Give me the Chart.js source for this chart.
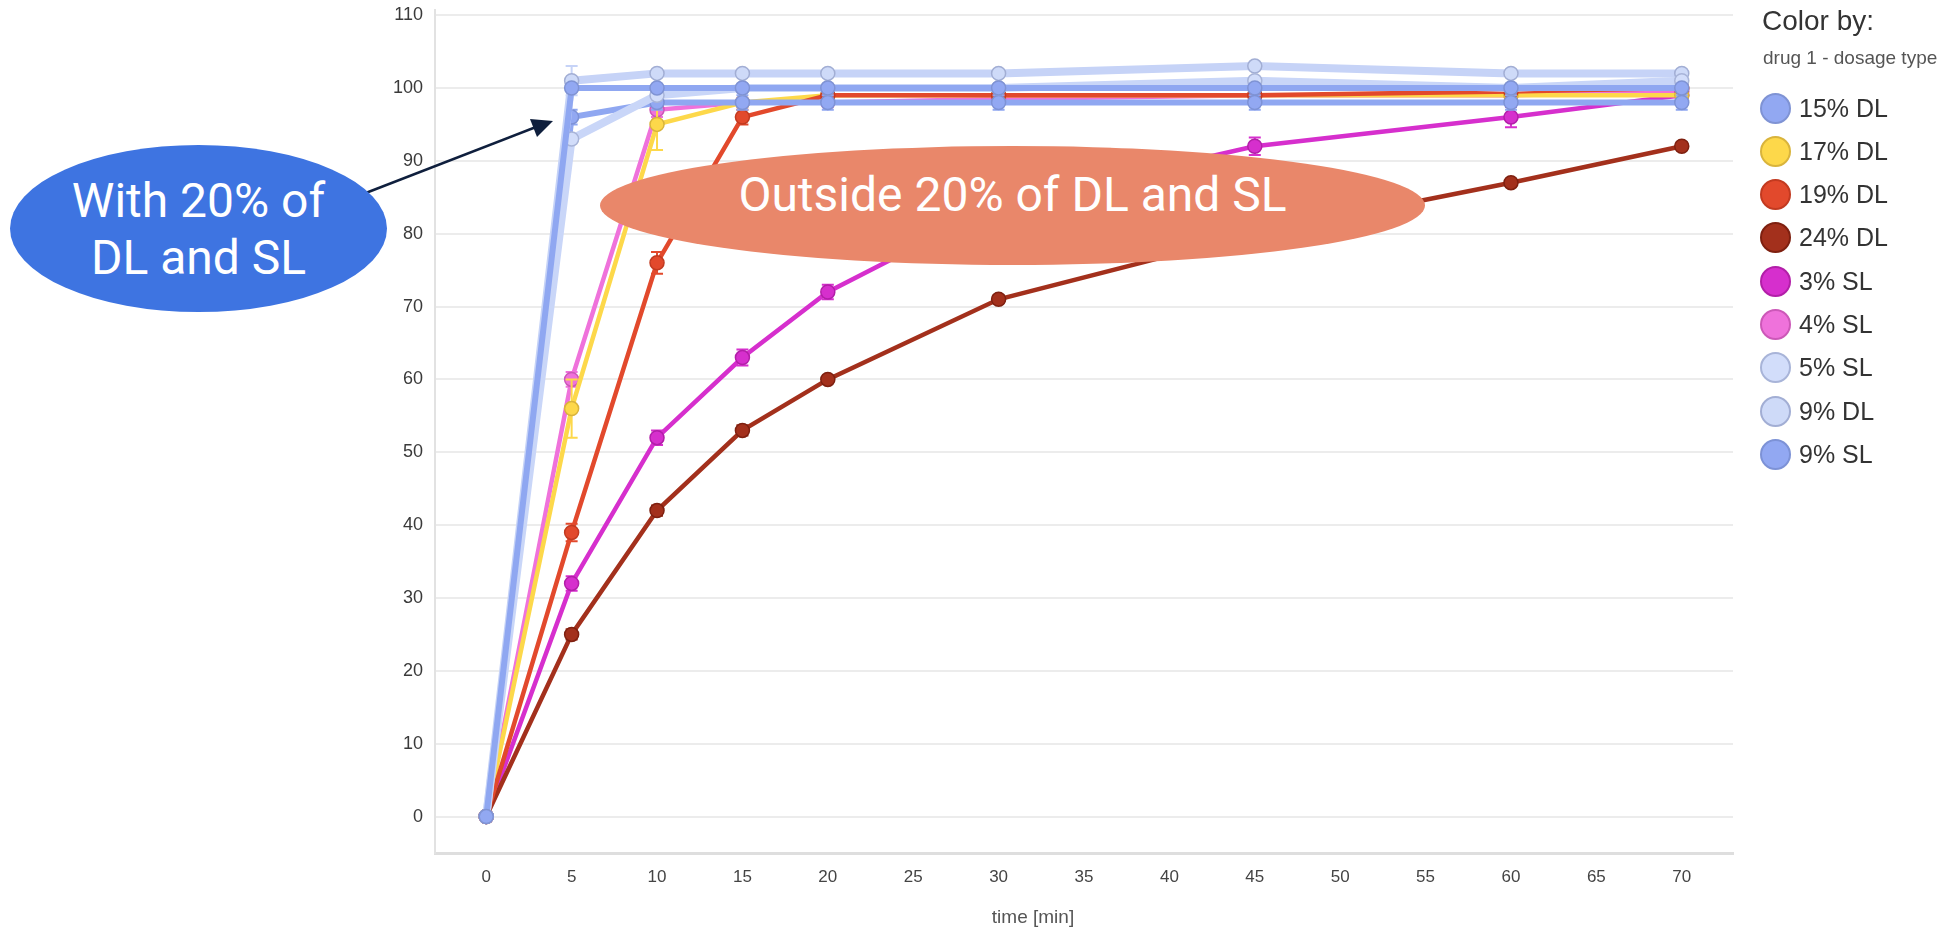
<!DOCTYPE html>
<html>
<head>
<meta charset="utf-8">
<script src="https://cdn.jsdelivr.net/npm/chart.js@4.4.1/dist/chart.umd.min.js"></script>
<style>
    body { margin: 0; background: #fff; width: 1951px; height: 929px; position: relative; overflow: hidden; font-family: 'Liberation Sans', Arial, sans-serif; }
    #chart { position: absolute; left: 0; top: 0; }
    .abs { position: absolute; white-space: nowrap; }
    .bubble { position: absolute; border-radius: 50%; color: #fff; font-family: Roboto, sans-serif; text-align: center; display: flex; align-items: center; justify-content: center; }
    .legend-item { position: absolute; left: 1760px; height: 32px; display: flex; align-items: center; font-size: 25px; color: #333; }
    .legend-item span.dot { width: 31px; height: 31px; border-radius: 50%; box-sizing: border-box; border: 2px solid; margin-right: 8px; }
</style>
</head>
<body>
<canvas id="chart" width="1951" height="929"></canvas>

<div class="abs" style="left:1762px; top:5px; font-size:28px; color:#333;">Color by:</div>
<div class="abs" style="left:1763px; top:47px; font-size:19px; color:#555;">drug 1 - dosage type</div>
<div id="legend"></div>

<div class="abs" style="left:1033px; top:906px; font-size:19px; color:#555; transform:translateX(-50%);">time [min]</div>

<svg class="abs" style="left:0; top:0;" width="1951" height="929">
    <line x1="358" y1="196" x2="536" y2="127" stroke="#0f1f3d" stroke-width="2.5"/>
    <polygon points="553,121 530,119 537,137" fill="#0f1f3d"/>
</svg>

<div class="bubble" style="left:10px; top:145px; width:377px; height:167px; background:#3e74e1; font-size:48px; line-height:57px;">With 20% of<br>DL and SL</div>
<div class="bubble" style="left:600px; top:146px; width:825px; height:119px; background:#e9876a; font-size:48px; line-height:48px;"><span style="margin-top:-22px;">Outside 20% of DL and SL</span></div>

<script>
// time points (x axis) and tick labels
const times = [0, 5, 10, 15, 20, 30, 45, 60, 70];
const xTicks = [0, 5, 10, 15, 20, 25, 30, 35, 40, 45, 50, 55, 60, 65, 70];
const yTicks = [0, 10, 20, 30, 40, 50, 60, 70, 80, 90, 100, 110];

const seriesNames = ['15% DL', '17% DL', '19% DL', '24% DL', '3% SL', '4% SL', '5% SL', '9% DL', '9% SL'];

// dissolved %
const dl15 = [0, 100, 100, 100, 100, 100, 100, 100, 100];
const dl17 = [0, 56, 95, 98, 99, 99, 99, 99, 99];
const dl19 = [0, 39, 76, 96, 99, 99, 99, 99.5, 100];
const dl24 = [0, 25, 42, 53, 60, 71, 80, 87, 92];
const sl3 = [0, 32, 52, 63, 72, 84, 92, 96, 99];
const sl4 = [0, 60, 97, 98, 98, 98.5, 99, 99, 99.5];
const sl5 = [0, 93, 99, 100, 100, 100, 101, 100, 101];
const dl9 = [0, 101, 102, 102, 102, 102, 103, 102, 102];
const sl9 = [0, 96, 98, 98, 98, 98, 98, 98, 98];

// error bar half widths
const errDl15 = [0, 0.5, 0.5, 0.5, 0.5, 0.5, 0.5, 0.5, 0.5];
const errDl17 = [0, 4, 3.5, 0.5, 0.5, 0.3, 0.3, 0.3, 0.3];
const errDl19 = [0, 1.2, 1.5, 1, 0.5, 0.3, 0.3, 0.3, 0.3];
const errDl24 = [0, 0.7, 0.7, 0.7, 0.5, 0.5, 0.5, 0.5, 0.5];
const errSl3 = [0, 1, 1, 1.1, 1, 1, 1.2, 1.4, 0.5];
const errSl4 = [0, 1, 1, 0.5, 0.5, 0.5, 0.5, 0.5, 0.5];
const errSl5 = [0, 0.5, 0.5, 0.5, 0.5, 0.5, 0.5, 0.5, 0.5];
const errDl9 = [0, 2, 0.5, 0.5, 0.5, 0.5, 0.5, 0.5, 0.5];
const errSl9 = [0, 1, 1, 1, 1, 1, 1, 1, 1];

const fills = ['#92a8f2', '#fdd84a', '#e2492c', '#a3301c', '#d62fcd', '#ef72db', '#d2ddfa', '#cedaf8', '#92a8f2'];
const borders = ['#7f93d4', '#d9b43c', '#c23a20', '#7e2010', '#b21fa8', '#cc58b8', '#a8b4d8', '#a2aed4', '#7d92d6'];
const lineColors = ['#8fa7f1', '#fdd84a', '#e2492c', '#a3301c', '#d62fcd', '#ef72db', '#c9d6f8', '#c6d3f7', '#8fa7f1'];

function makeSeries(i, values, errs, width, order) {
    return {
        label: seriesNames[i],
        data: times.map((t, k) => ({ x: t, y: values[k] })),
        errors: errs,
        borderColor: lineColors[i],
        backgroundColor: fills[i],
        pointBackgroundColor: fills[i],
        pointBorderColor: borders[i],
        pointBorderWidth: 1.5,
        pointRadius: 7,
        borderWidth: width,
        tension: 0,
        order: order
    };
}

const datasets = [
    makeSeries(0, dl15, errDl15, 6, 0),
    makeSeries(1, dl17, errDl17, 4.5, 2),
    makeSeries(2, dl19, errDl19, 4.5, 1),
    makeSeries(3, dl24, errDl24, 4.5, 2),
    makeSeries(4, sl3, errSl3, 4.5, 2),
    makeSeries(5, sl4, errSl4, 4.5, 2),
    makeSeries(6, sl5, errSl5, 8, 0),
    makeSeries(7, dl9, errDl9, 8, 0),
    makeSeries(8, sl9, errSl9, 6, 0)
];

// small whiskers under each dataset
const errorBars = {
    id: 'errorBars',
    beforeDatasetDraw(chart, args) {
        const ds = chart.data.datasets[args.index];
        const meta = args.meta;
        const y = chart.scales.y;
        const ctx = chart.ctx;
        ctx.save();
        ctx.strokeStyle = ds.borderColor;
        ctx.lineWidth = 2;
        meta.data.forEach((pt, i) => {
            const e = ds.errors[i];
            if (!e) return;
            const v = ds.data[i].y;
            const top = y.getPixelForValue(v + e);
            const bot = y.getPixelForValue(v - e);
            ctx.beginPath();
            ctx.moveTo(pt.x, top); ctx.lineTo(pt.x, bot);
            ctx.moveTo(pt.x - 6, top); ctx.lineTo(pt.x + 6, top);
            ctx.moveTo(pt.x - 6, bot); ctx.lineTo(pt.x + 6, bot);
            ctx.stroke();
        });
        ctx.restore();
    }
};

Chart.defaults.font.family = "'Liberation Sans', Arial, sans-serif";

new Chart(document.getElementById('chart'), {
    type: 'line',
    data: { datasets: datasets },
    plugins: [errorBars],
    options: {
        responsive: false,
        animation: false,
        layout: { padding: { left: 0, right: 218, top: 10, bottom: 0 } },
        plugins: {
            legend: { display: false },
            tooltip: { enabled: false }
        },
        scales: {
            x: {
                type: 'linear',
                min: -3,
                max: 73,
                afterBuildTicks: s => { s.ticks = xTicks.map(v => ({ value: v })); },
                afterFit: s => { s.height = 76; s.paddingLeft = 0; s.paddingRight = 0; },
                grid: { display: false, drawTicks: false },
                border: { display: true, color: '#dedede', width: 3 },
                ticks: { color: '#444', font: { size: 17 }, padding: 14, maxRotation: 0 }
            },
            y: {
                min: -5,
                max: 110.7,
                afterBuildTicks: s => { s.ticks = yTicks.map(v => ({ value: v })); },
                afterFit: s => { s.width = 435; s.paddingTop = 0; s.paddingBottom = 0; },
                grid: { color: '#ececec', lineWidth: 2, drawTicks: false },
                border: { display: true, color: '#e2e2e2', width: 2 },
                ticks: { color: '#3a3a3a', font: { size: 18 }, padding: 12 }
            }
        }
    }
});

// html legend built from the datasets
const legend = document.getElementById('legend');
datasets.forEach((ds, i) => {
    const item = document.createElement('div');
    item.className = 'legend-item';
    item.style.top = (92 + i * 43.3) + 'px';
    item.innerHTML = `<span class="dot" style="background:${fills[i]}; border-color:${borders[i]}"></span>${ds.label}`;
    legend.appendChild(item);
});
</script>
</body>
</html>
